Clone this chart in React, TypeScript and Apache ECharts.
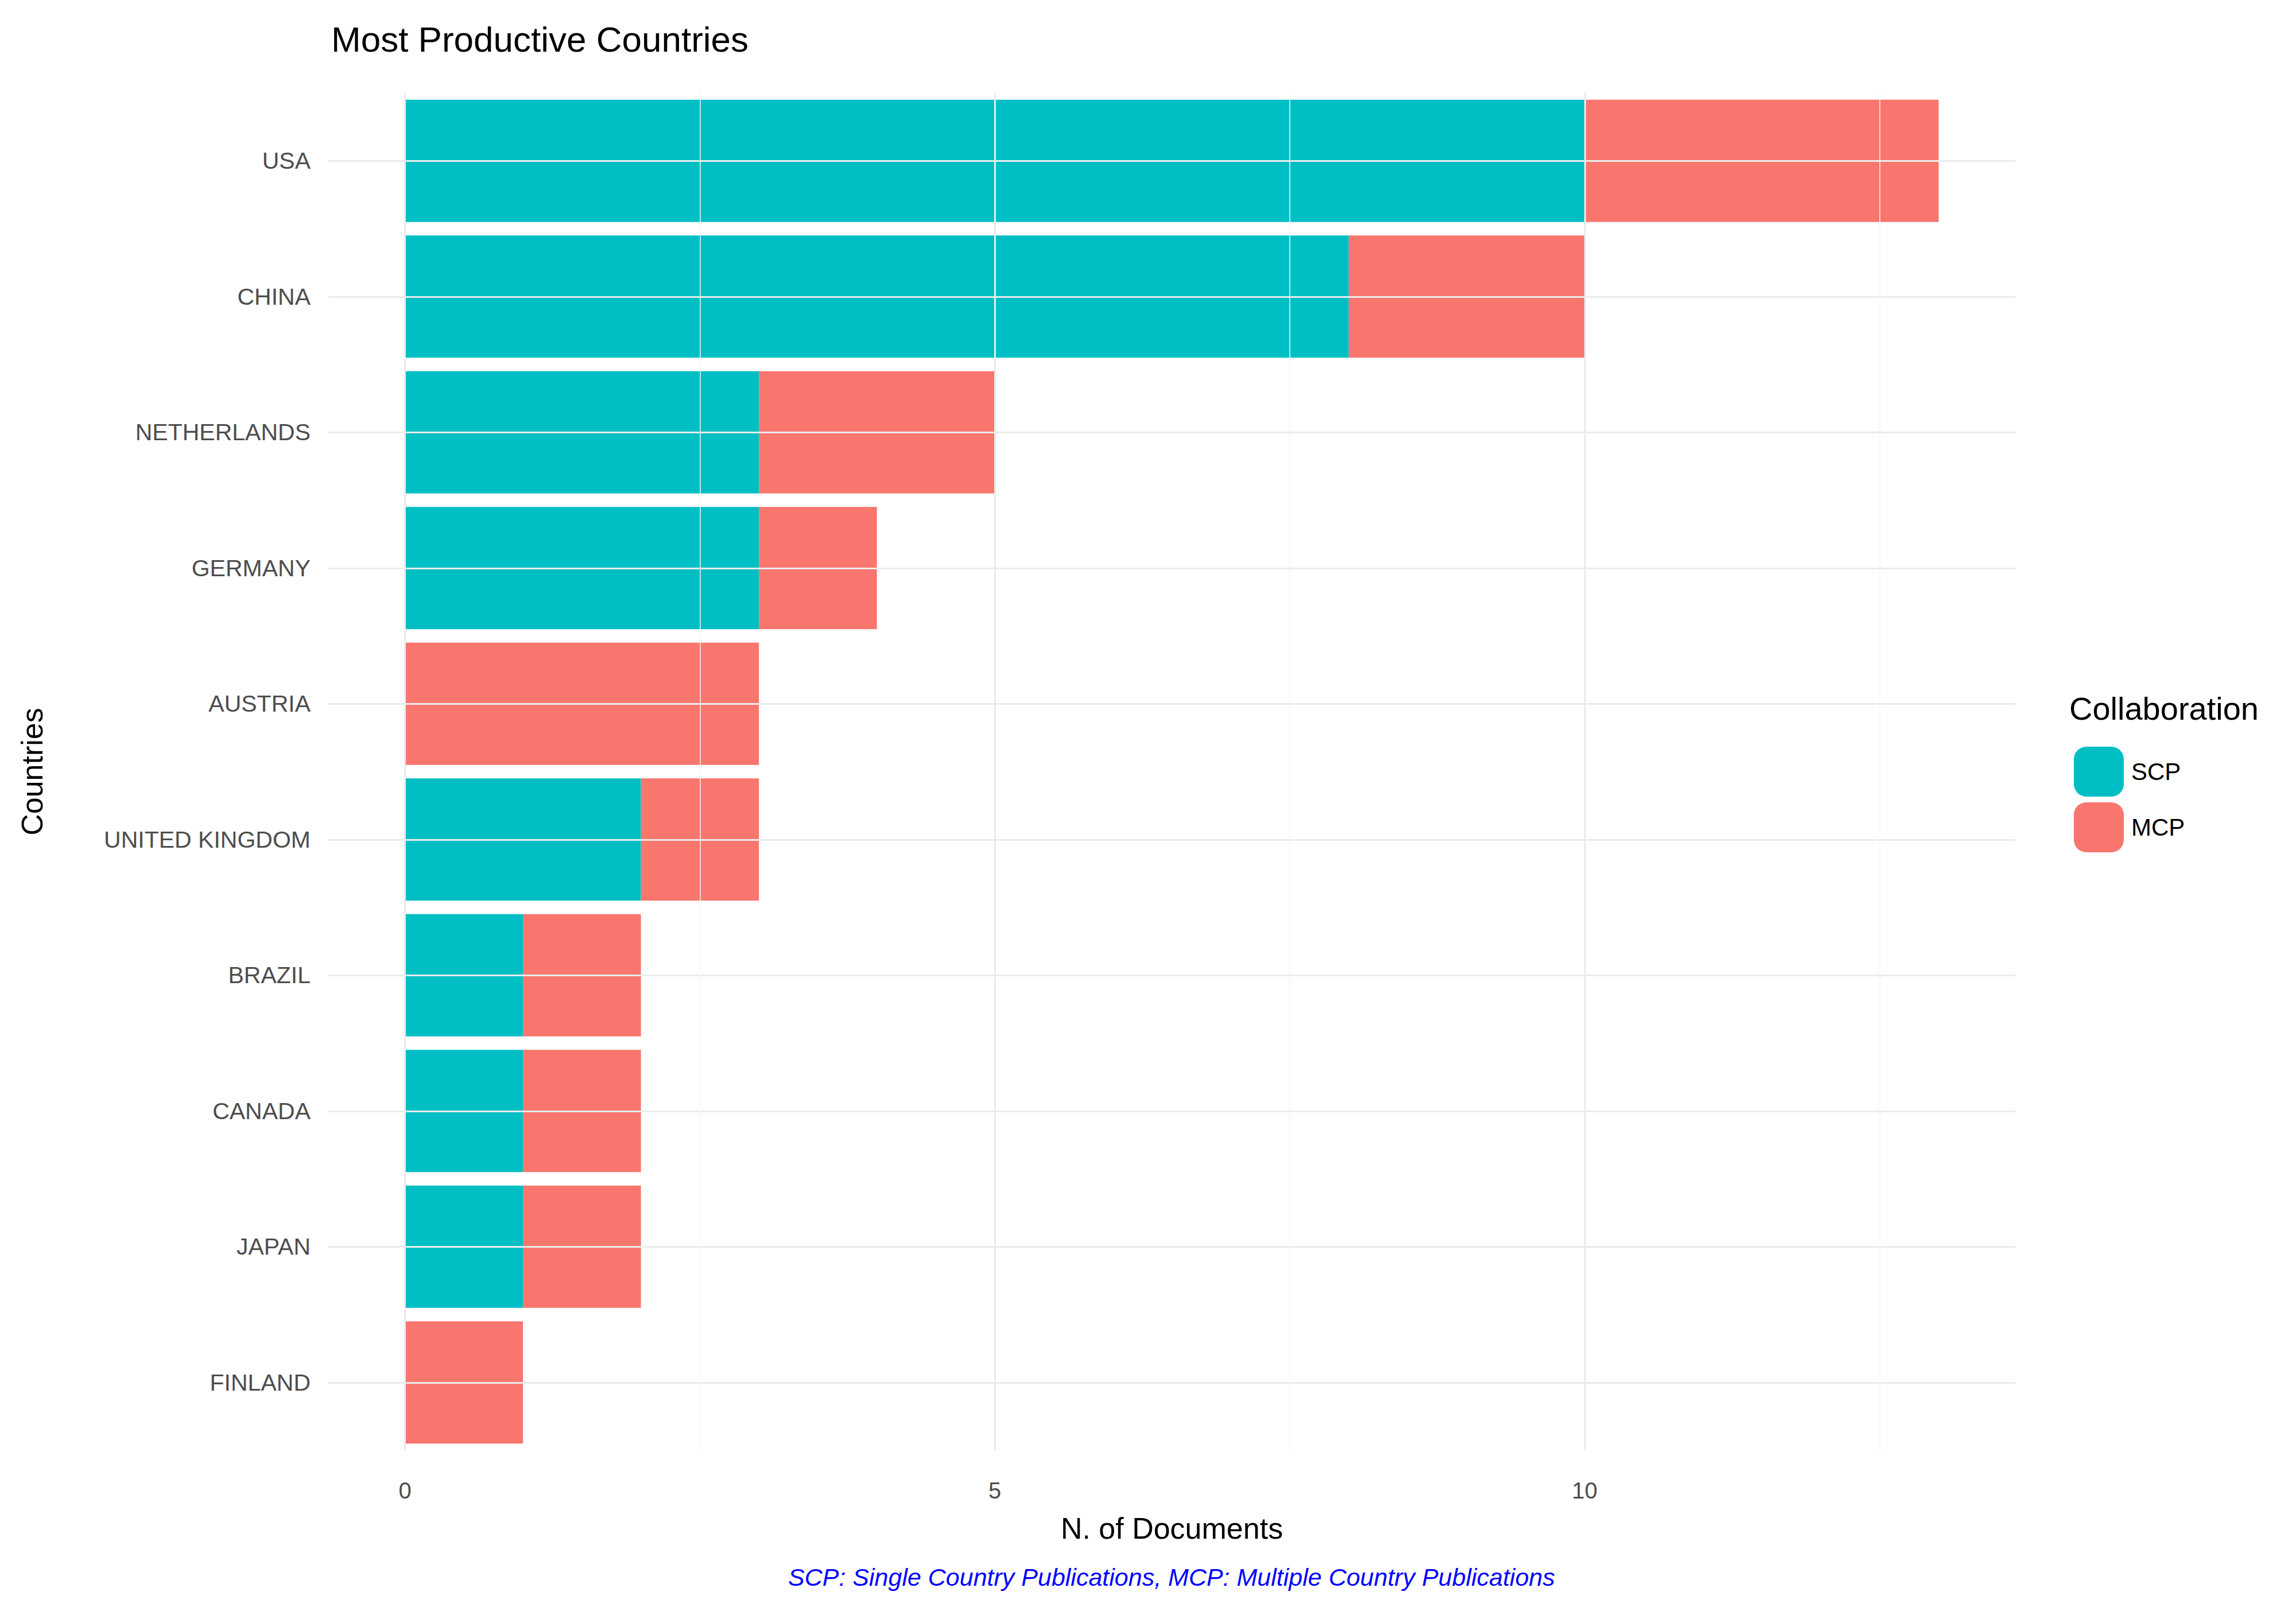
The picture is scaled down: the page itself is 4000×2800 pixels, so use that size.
import React, { useEffect, useRef } from 'react';
import * as echarts from 'echarts';

const countries = ['USA', 'CHINA', 'NETHERLANDS', 'GERMANY', 'AUSTRIA', 'UNITED KINGDOM', 'BRAZIL', 'CANADA', 'JAPAN', 'FINLAND'];
const scp = [10, 8, 3, 3, 0, 2, 1, 1, 1, 0];
const mcp = [3, 2, 2, 1, 3, 1, 1, 1, 1, 1];
const majorX = [0, 5, 10];
const minorX = [2.5, 7.5, 12.5];

const FONT = '"Liberation Sans", Arial, sans-serif';

export default function App() {
  const ref = useRef<HTMLDivElement>(null);

  useEffect(() => {
    if (!ref.current) return;
    const chart = echarts.init(ref.current, undefined, { renderer: 'svg' });

    const gridLines = {
      silent: true,
      symbol: 'none',
      label: { show: false },
      animation: false,
      data: [
        ...countries.map((c) => ({ yAxis: c, lineStyle: { color: '#ebebeb', width: 3, type: 'solid' as const } })),
        ...majorX.map((x) => ({ xAxis: x, lineStyle: { color: '#ebebeb', width: 3, type: 'solid' as const } })),
        ...minorX.map((x) => ({ xAxis: x, lineStyle: { color: '#f4f4f4', width: 1.5, type: 'solid' as const } })),
      ],
    };

    chart.setOption({
      animation: false,
      textStyle: { fontFamily: FONT },
      title: {
        text: 'Most Productive Countries',
        left: 564,
        top: 24,
        textStyle: { fontFamily: FONT, fontSize: 62, fontWeight: 'normal', color: '#000' },
      },
      legend: {
        orient: 'vertical',
        left: 3600,
        top: 1288,
        itemWidth: 87,
        itemHeight: 87,
        itemGap: 10,
        data: ['SCP', 'MCP'],
        textStyle: { fontFamily: FONT, fontSize: 42, color: '#000', padding: [0, 0, 0, 8] },
      },
      grid: { left: 564, right: 497, top: 154, bottom: 281 },
      xAxis: {
        type: 'value',
        min: -0.65,
        max: 13.65,
        name: 'N. of Documents',
        nameLocation: 'middle',
        nameGap: 110,
        nameTextStyle: { fontFamily: FONT, fontSize: 52, color: '#000' },
        splitLine: { show: false },
        axisLine: { show: false },
        axisTick: { show: false },
        axisLabel: {
          customValues: majorX,
          fontSize: 40,
          color: '#4d4d4d',
          margin: 50,
          fontFamily: FONT,
        },
      },
      yAxis: {
        type: 'category',
        inverse: true,
        data: countries,
        name: 'Countries',
        nameLocation: 'middle',
        nameGap: 490,
        nameRotate: 90,
        nameTextStyle: { fontFamily: FONT, fontSize: 52, color: '#000' },
        axisLine: { show: false },
        axisTick: { show: false },
        splitLine: { show: false },
        axisLabel: { fontSize: 41, color: '#4d4d4d', margin: 31, fontFamily: FONT },
      },
      series: [
        {
          name: 'SCP',
          type: 'bar',
          stack: 'total',
          data: scp,
          barCategoryGap: '10%',
          itemStyle: { color: '#00BFC4' },
          markLine: gridLines,
          z: 3,
        },
        {
          name: 'MCP',
          type: 'bar',
          stack: 'total',
          data: mcp,
          barCategoryGap: '10%',
          itemStyle: { color: '#F8766D' },
          z: 3,
        },
      ],
      graphic: [
        {
          type: 'text',
          left: 3597,
          top: 1198,
          style: { text: 'Collaboration', font: `56px ${FONT}`, fill: '#000' },
        },
        {
          type: 'text',
          x: 2033,
          y: 2740,
          style: {
            text: 'SCP: Single Country Publications, MCP: Multiple Country Publications',
            font: `italic 43px ${FONT}`,
            fill: '#0000ff',
            align: 'center',
            verticalAlign: 'middle',
          },
        },
      ],
    });

    return () => chart.dispose();
  }, []);

  return <div ref={ref} style={{ width: 4000, height: 2800, background: '#fff' }} />;
}
